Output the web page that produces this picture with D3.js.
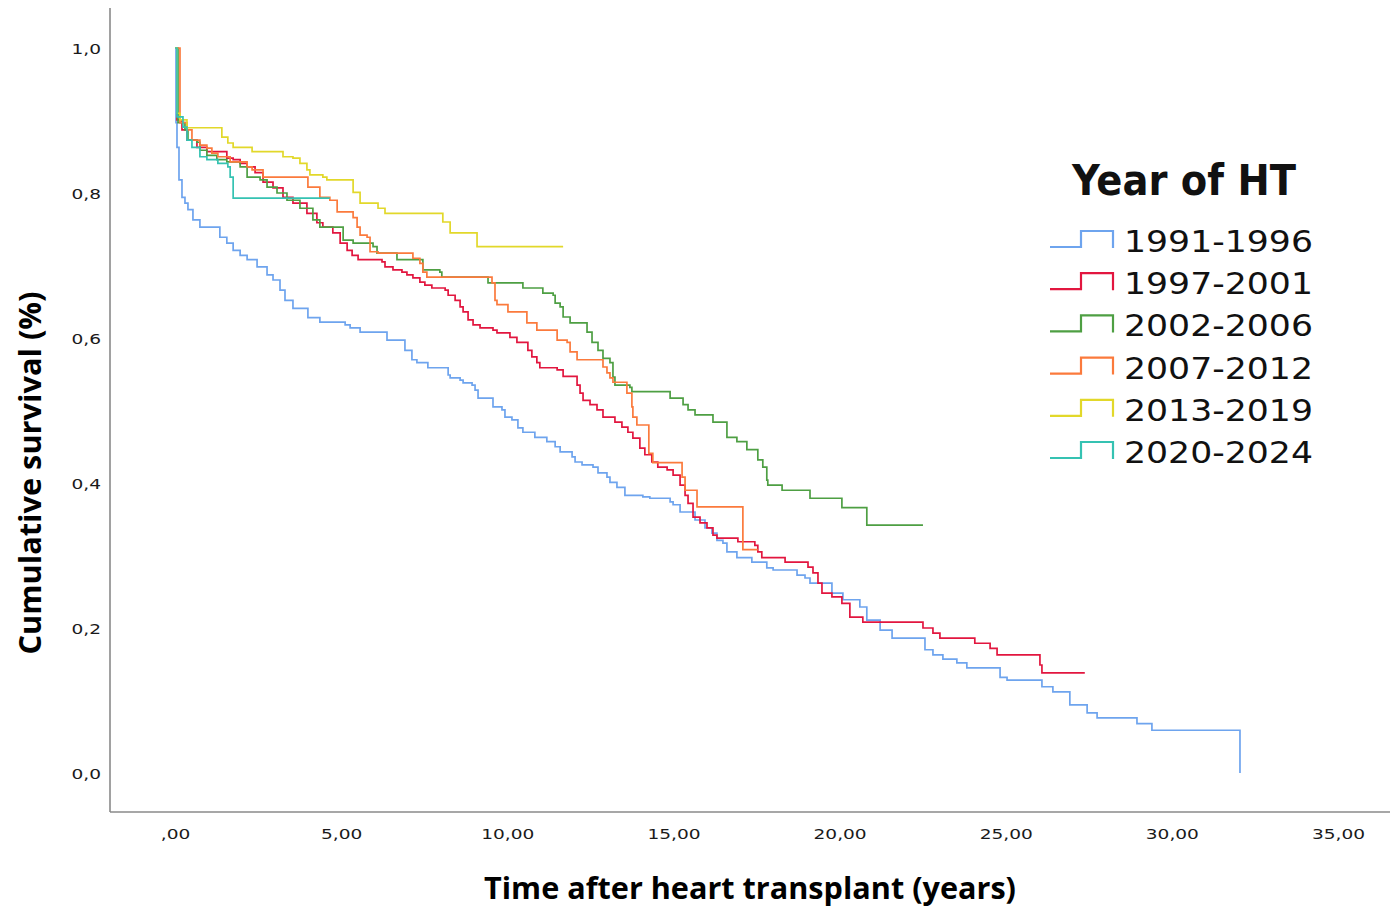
<!DOCTYPE html>
<html>
<head>
<meta charset="utf-8">
<script src="https://cdn.jsdelivr.net/npm/d3@7"></script>
<style>
  html, body { margin: 0; padding: 0; background: #fff; }
  svg { display: block; }
</style>
</head>
<body>
<svg id="chart" width="1390" height="908"></svg>
<script>
// ---------- DATA ----------
const seriesNames = ["1991-1996", "1997-2001", "2002-2006", "2007-2012", "2013-2019", "2020-2024"];
const seriesColors = ["#6ea4ee", "#e2163f", "#4e9f43", "#fb7a3c", "#e2d82a", "#35c2b2"];
const seriesEnds = [32.05, 27.38, 22.51, 17.54, 11.68, 4.66];

// Kaplan-Meier steps: [time (years), survival after the step]
const s1991 = [[0,1],[0.03,0.897],[0.06,0.863],[0.12,0.818],[0.21,0.794],[0.30,0.786],[0.39,0.777],[0.54,0.763],[0.75,0.753],
  [1.35,0.739],[1.56,0.731],[1.75,0.721],[1.96,0.714],[2.17,0.708],[2.47,0.698],[2.77,0.687],[2.95,0.680],[3.16,0.666],
  [3.31,0.652],[3.55,0.641],[4.00,0.628],[4.36,0.622],[5.12,0.618],[5.27,0.614],[5.57,0.608],[6.38,0.597],[6.92,0.583],
  [7.13,0.570],[7.28,0.566],[7.61,0.559],[8.22,0.549],[8.28,0.545],[8.58,0.542],[8.67,0.538],[8.94,0.535],[9.03,0.528],
  [9.12,0.517],[9.57,0.505],[9.84,0.501],[9.93,0.491],[10.14,0.487],[10.32,0.476],[10.47,0.470],[10.83,0.463],[11.19,0.457],
  [11.44,0.450],[11.59,0.443],[11.95,0.436],[12.04,0.429],[12.25,0.425],[12.58,0.422],[12.73,0.414],[13.00,0.408],[13.09,0.401],
  [13.30,0.394],[13.54,0.383],[14.08,0.381],[14.29,0.379],[14.90,0.374],[14.99,0.370],[15.20,0.360],[15.65,0.349],[15.95,0.338],
  [16.16,0.331],[16.31,0.321],[16.49,0.317],[16.61,0.305],[16.91,0.297],[17.36,0.291],[17.81,0.283],[18.00,0.280],[18.72,0.273],
  [18.96,0.269],[19.11,0.262],[19.77,0.248],[20.10,0.239],[20.61,0.229],[20.82,0.211],[21.22,0.197],[21.58,0.186],[22.57,0.170],
  [22.81,0.163],[23.11,0.157],[23.53,0.152],[23.83,0.145],[24.83,0.132],[25.04,0.128],[26.09,0.119],[26.42,0.112],[26.93,0.094],
  [27.45,0.083],[27.75,0.076],[28.95,0.068],[29.40,0.059],[32.05,0.0]];

const s1997 = [[0,1],[0.06,0.901],[0.21,0.887],[0.36,0.873],[0.66,0.863],[0.96,0.857],[1.56,0.848],[1.75,0.846],[1.96,0.841],
  [2.17,0.836],[2.41,0.828],[2.65,0.815],[2.95,0.807],[3.25,0.794],[3.55,0.786],[3.97,0.772],[4.27,0.759],[4.45,0.753],
  [4.75,0.745],[4.97,0.731],[5.18,0.721],[5.33,0.714],[5.51,0.708],[6.23,0.705],[6.32,0.698],[6.56,0.694],[6.83,0.691],
  [6.98,0.687],[7.16,0.683],[7.37,0.677],[7.52,0.673],[7.73,0.669],[8.13,0.666],[8.22,0.659],[8.43,0.652],[8.58,0.643],
  [8.67,0.636],[8.82,0.625],[8.97,0.618],[9.18,0.614],[9.57,0.611],[9.69,0.607],[10.08,0.601],[10.29,0.594],[10.62,0.583],
  [10.74,0.574],[10.89,0.566],[10.98,0.559],[11.50,0.556],[11.68,0.547],[12.10,0.535],[12.19,0.524],[12.28,0.514],[12.49,0.508],
  [12.70,0.501],[12.88,0.491],[13.24,0.484],[13.45,0.477],[13.63,0.470],[13.78,0.462],[13.99,0.448],[14.14,0.439],[14.35,0.429],
  [14.53,0.422],[14.81,0.418],[14.99,0.411],[15.20,0.397],[15.35,0.383],[15.44,0.372],[15.59,0.353],[15.80,0.345],[16.01,0.338],
  [16.19,0.328],[16.31,0.324],[16.94,0.319],[17.45,0.314],[17.54,0.305],[17.66,0.297],[18.36,0.291],[19.05,0.284],[19.20,0.276],
  [19.35,0.262],[19.47,0.248],[19.77,0.243],[20.07,0.234],[20.31,0.215],[20.70,0.208],[22.51,0.200],[22.81,0.193],[23.02,0.186],
  [24.07,0.179],[24.53,0.172],[24.74,0.163],[26.03,0.149],[26.09,0.138]];

const s2002 = [[0,1],[0.09,0.897],[0.30,0.887],[0.39,0.873],[0.66,0.870],[0.75,0.859],[0.96,0.852],[1.26,0.846],[1.56,0.843],
  [1.96,0.836],[2.17,0.822],[2.56,0.818],[2.77,0.808],[3.07,0.800],[3.37,0.790],[3.76,0.779],[4.15,0.763],[4.36,0.753],
  [5.06,0.735],[5.36,0.731],[5.96,0.726],[6.08,0.717],[6.68,0.708],[7.46,0.694],[7.97,0.691],[8.03,0.684],[9.42,0.676],
  [10.47,0.669],[11.07,0.662],[11.38,0.659],[11.44,0.648],[11.59,0.643],[11.68,0.629],[11.89,0.621],[12.40,0.608],[12.55,0.594],
  [12.73,0.583],[12.88,0.572],[13.09,0.566],[13.18,0.546],[13.24,0.535],[13.69,0.532],[13.75,0.526],[14.90,0.517],[15.29,0.508],
  [15.44,0.501],[15.65,0.494],[16.19,0.484],[16.61,0.463],[16.91,0.457],[17.21,0.446],[17.54,0.432],[17.69,0.422],[17.81,0.404],
  [17.84,0.397],[18.27,0.390],[19.11,0.379],[20.07,0.366],[20.82,0.342]];

const s2007 = [[0,1],[0.15,0.897],[0.36,0.887],[0.51,0.873],[0.75,0.866],[0.96,0.862],[1.11,0.855],[1.29,0.850],[1.66,0.843],
  [2.17,0.836],[2.32,0.832],[2.65,0.822],[4.00,0.808],[4.36,0.794],[4.66,0.790],[4.88,0.774],[5.36,0.766],[5.48,0.753],
  [5.57,0.742],[5.78,0.739],[5.87,0.719],[6.11,0.717],[7.16,0.710],[7.37,0.703],[7.46,0.691],[7.58,0.684],[9.54,0.676],
  [9.63,0.652],[9.69,0.646],[10.02,0.636],[10.59,0.621],[10.89,0.611],[11.50,0.597],[11.80,0.594],[11.89,0.581],[12.10,0.570],
  [12.88,0.560],[13.00,0.552],[13.09,0.545],[13.18,0.539],[13.60,0.524],[13.75,0.505],[13.78,0.491],[13.90,0.480],[14.26,0.441],
  [14.38,0.428],[15.26,0.408],[15.35,0.390],[15.71,0.367],[17.09,0.308]];

const s2013 = [[0,1],[0.06,0.910],[0.15,0.901],[0.36,0.890],[1.41,0.877],[1.59,0.869],[1.75,0.863],[2.32,0.857],[3.25,0.850],
  [3.55,0.848],[3.76,0.841],[3.97,0.832],[4.06,0.825],[4.45,0.822],[4.57,0.818],[5.36,0.801],[5.57,0.786],[6.11,0.779],
  [6.32,0.772],[8.06,0.760],[8.28,0.745],[9.09,0.726]];

const s2020 = [[0,1],[0.06,0.905],[0.24,0.891],[0.36,0.873],[0.51,0.863],[0.75,0.850],[0.96,0.846],[1.29,0.841],[1.59,0.836],
  [1.66,0.822],[1.75,0.793]];

const seriesData = [s1991, s1997, s2002, s2007, s2013, s2020];

const xTicks = [0, 5, 10, 15, 20, 25, 30, 35];
const xTickLabels = [",00", "5,00", "10,00", "15,00", "20,00", "25,00", "30,00", "35,00"];
const yTicks = [0, 0.2, 0.4, 0.6, 0.8, 1.0];
const yTickLabels = ["0,0", "0,2", "0,4", "0,6", "0,8", "1,0"];

const xTitle = "Time after heart transplant (years)";
const yTitle = "Cumulative survival (%)";
const legendTitle = "Year of HT";

// ---------- LAYOUT ----------
const svg = d3.select("#chart");
const frame = { left: 110, right: 1390, top: 8, bottom: 812 };
const x = d3.scaleLinear().domain([0, 35]).range([175, 1338]);
const y = d3.scaleLinear().domain([0, 1]).range([773, 48]);

// frame lines (axis lines)
svg.append("line").attr("x1", frame.left).attr("x2", frame.left)
  .attr("y1", frame.top).attr("y2", frame.bottom)
  .attr("stroke", "#8a8a8a").attr("stroke-width", 1.6);
svg.append("line").attr("x1", frame.left).attr("x2", frame.right)
  .attr("y1", frame.bottom).attr("y2", frame.bottom)
  .attr("stroke", "#8a8a8a").attr("stroke-width", 1.6);

// y axis labels
const yAxis = d3.axisLeft(y).tickValues(yTicks).tickSize(0).tickPadding(0)
  .tickFormat((d, i) => yTickLabels[i]);
const gy = svg.append("g").attr("transform", `translate(101,1)`).call(yAxis);
gy.select(".domain").remove();
gy.selectAll("text")
  .attr("font-family", "DejaVu Sans, Verdana, sans-serif")
  .attr("font-size", 14.5).attr("fill", "#1a1a1a")
  .attr("transform", "scale(1.28,1)");

// x axis labels
const xAxis = d3.axisBottom(x).tickValues(xTicks).tickSize(0).tickPadding(0)
  .tickFormat((d, i) => xTickLabels[i]);
const gx = svg.append("g").attr("transform", `translate(0,829)`).call(xAxis);
gx.select(".domain").remove();
gx.selectAll("text")
  .attr("font-family", "DejaVu Sans, Verdana, sans-serif")
  .attr("font-size", 14.5).attr("fill", "#1a1a1a")
  .attr("transform", "scale(1.28,1)");

// axis titles
svg.append("text")
  .attr("x", 750).attr("y", 899)
  .attr("text-anchor", "middle")
  .attr("font-family", "Open Sans, Lato, sans-serif")
  .attr("font-weight", "bold").attr("font-size", 31)
  .attr("textLength", 532).attr("lengthAdjust", "spacingAndGlyphs")
  .attr("fill", "#000").text(xTitle);

svg.append("text")
  .attr("transform", "translate(41,473) rotate(-90)")
  .attr("text-anchor", "middle")
  .attr("font-family", "Open Sans, Lato, sans-serif")
  .attr("font-weight", "bold").attr("font-size", 31)
  .attr("textLength", 363).attr("lengthAdjust", "spacingAndGlyphs")
  .attr("fill", "#000").text(yTitle);

// curves
const line = d3.line().x(d => x(d[0])).y(d => y(d[1])).curve(d3.curveStepAfter);
seriesData.forEach((data, i) => {
  const pts = data.slice();
  const last = pts[pts.length - 1];
  if (last[0] < seriesEnds[i]) pts.push([seriesEnds[i], last[1]]);
  svg.append("path")
    .attr("d", line(pts))
    .attr("fill", "none")
    .attr("stroke", seriesColors[i])
    .attr("stroke-width", 1.7)
    .attr("stroke-linejoin", "miter");
});

// legend
const lg = svg.append("g");
lg.append("text")
  .attr("x", 1184).attr("y", 195)
  .attr("text-anchor", "middle")
  .attr("font-family", "DejaVu Sans, Verdana, sans-serif")
  .attr("font-weight", "bold").attr("font-size", 42)
  .attr("textLength", 224).attr("lengthAdjust", "spacingAndGlyphs")
  .attr("fill", "#111").text(legendTitle);

const rowY = d3.scalePoint().domain(seriesNames).range([241, 452]);
seriesNames.forEach((name, i) => {
  const cy = rowY(name);
  lg.append("path")
    .attr("d", `M1050,${cy + 6}H1081V${cy - 10}H1113V${cy + 7}`)
    .attr("fill", "none").attr("stroke", seriesColors[i]).attr("stroke-width", 2.2);
  lg.append("text")
    .attr("x", 1124).attr("y", cy + 11)
    .attr("font-family", "DejaVu Sans, Verdana, sans-serif")
    .attr("font-size", 31)
    .attr("textLength", 189).attr("lengthAdjust", "spacingAndGlyphs")
    .attr("fill", "#111").text(name);
});
</script>
</body>
</html>
